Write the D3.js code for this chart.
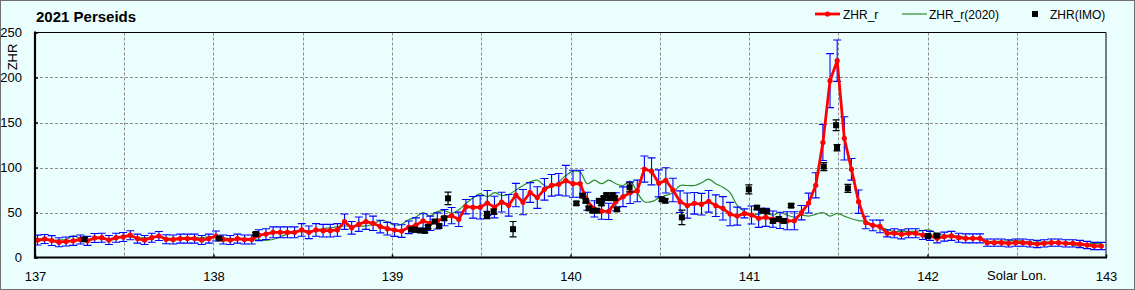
<!DOCTYPE html>
<html><head><meta charset="utf-8">
<script src="https://cdn.jsdelivr.net/npm/d3@7"></script>
<style>
html,body{margin:0;padding:0;background:#ebfefe;}
svg{display:block;}
text{font-family:"Liberation Sans",Arial,sans-serif;fill:#000;}
</style></head>
<body>
<svg id="chart" width="1135" height="290"></svg>
<script>
// ---- data ----
const solarLon = [
137.014,137.054,137.094,137.134,137.174,137.214,137.254,137.294,137.334,137.374,137.414,137.454,137.494,137.534,137.574,137.614,137.654,137.694,137.734,137.774,137.814,137.854,137.894,137.934,137.974,
138.014,138.054,138.094,138.134,138.174,138.214,138.254,138.294,138.334,138.374,138.414,138.454,138.494,138.534,138.574,138.614,138.654,138.694,138.734,138.774,138.814,138.854,138.894,138.934,138.974,
139.014,139.054,139.094,139.134,139.174,139.214,139.254,139.294,139.334,139.374,139.414,139.454,139.494,139.534,139.574,139.614,139.654,139.694,139.734,139.774,139.814,139.854,139.894,139.934,139.974,
140.014,140.054,140.094,140.134,140.174,140.214,140.254,140.294,140.334,140.374,140.414,140.454,140.494,140.534,140.574,140.614,140.654,140.694,140.734,140.774,140.814,140.854,140.894,140.934,140.974,
141.014,141.054,141.094,141.134,141.174,141.214,141.254,141.294,141.334,141.374,141.414,141.454,141.494,141.534,141.574,141.614,141.654,141.694,141.734,141.774,141.814,141.854,141.894,141.934,141.974,
142.014,142.054,142.094,142.134,142.174,142.214,142.254,142.294,142.334,142.374,142.414,142.454,142.494,142.534,142.574,142.614,142.654,142.694,142.734,142.774,142.814,142.854,142.894,142.934,142.974
];
const zhrR = [
19.4,20.6,18.8,17,17.8,18.5,20,18.5,21.7,22,19.4,22,22.8,24.8,21,19.4,22,23.9,20.2,20,21,21,21,19.4,21,
23.9,20,19.4,21,20,20,24.8,26,28,28,28,28,30.6,28,30.6,29.8,29.8,30.6,39.8,33,37,39.8,38,34.4,32,
30.5,29.4,33.5,36,40.6,38,40.6,44.3,46.5,42.4,56.5,55.7,55.7,60.5,56,61.5,58,69.4,61.5,72.2,66.6,75.7,80.2,81.3,85.4,
82,82,62.5,54,51.5,51.3,62,67.5,72,74,98.3,95.7,82.4,85.7,75,62,57.7,60.2,59.2,62.4,57.6,54.6,48.2,46,49,
47.2,43.5,44.6,42.6,41.3,40.8,40.8,49.8,60.5,80.2,127.8,196.5,218.7,132.4,98,62,38.9,35.7,34.5,26.9,27,25.7,26.9,26.9,25,
24,21.3,23.2,24,22,21.3,21.3,21.3,16.5,16.5,16.5,15.7,16.5,16.5,15.7,15,15.7,16.5,16.5,15.7,15.7,15,13.9,12.8,12.8
];
const zhrRErr = [
5.5,5,5.5,5,5,5,5,5,5,5,5,5,5,5,5,5,5,5,5,5,5,5,5,5,5,
5.5,5,5,5,5,5,6,6,6,6,6,6,7,7,7,7,7,7,8.5,7,8,8.5,8,7,7,
7,7,7,8,8,8,9,9,9,8,8,12,13,14,12,11,12,13,14,11,12,12,12,12,17,
15,15,10,9,9,9,10,11,12,12,14.5,15,15,14,13,12,14,12,12,12,12,13,13,10,5,
10,10,10,9,9,10,10,8,11,14,20,30,23,24,12,13,7,6,7,4,5,5,5,5,5,
5,5,5,5,5,5,5,5,4,4,4,4,4,4,4,4,4,4,4,4,4,4,4,4,4
];
const zhrR2020 = [
18,19,19,19.5,20,24,21,20,21,21,19,21,23,23,22,22,22,23,22,21,22,22,22,22,23,
23,22,21,21,20,20,19.5,19,20,23,26,28,29,28,30,32,33,34,35,35,35,35,37,41,40,
36,37,42,45,50,46,51,52,49,53,60,66,71,67.6,72,69,70,75,80,84,86,80,78,84,91,
96,95,82,86,82,86,82,80,85,72,62,62,66,69,72,80,80,80,83,87,82,78,72,58,51,
48.5,48,50,47,50,47,45,47,46,48,50,46,49,46,43,41,40,36,34,31,29,29,29,29,30,
30.5,26,25,24,24,22,22,22,18,18,18,18.5,19,18,17,17,17,17,16,15.5,14,12.5,15,15.5,15.5
];
const imoLon = [137.276,138.032,138.236,139.109,139.128,139.156,139.184,139.202,139.240,139.264,139.292,139.314,139.532,139.570,139.678,
140.033,140.067,140.085,140.102,140.123,140.148,140.160,140.173,140.186,140.201,140.220,140.235,140.248,140.260,140.331,140.512,140.531,140.624,
140.999,141.044,141.074,141.100,141.134,141.167,141.194,141.236,141.419,141.488,141.493,141.554,142.002,142.052];
const imoZHR = [20.2,21.3,26.1,31,31,30,29.5,34,40,35,43.5,65.7,47.2,50.9,31.5,
60.2,68.7,63,54.6,52,52,63,60,66,69.4,66,69.4,66,53.5,78,64.6,63,44.6,
75.7,55.4,52,51,40.6,42.8,40.6,57.6,101,147,122,76.8,23.9,24.4];
const imoErr = [1.5,1.5,1.5,1.5,1.5,1.5,1.5,2,2,2,2,7,4,3,8.5,
2,2,2,2,2,2,2,2,2,2,2,2,2,2,5,2,2,8,
5,2,2,2,2,2,2,2,4.5,6,3.5,4.5,1,1];
const xTicks = [137,138,139,140,141,142,143];
const yTicks = [0,50,100,150,200,250];
const title = "2021 Perseids";
const legendNames = ["ZHR_r","ZHR_r(2020)","ZHR(IMO)"];

// ---- drawing ----
const svg = d3.select("#chart");
const W = 1135, H = 290;
const L = 35, R = 1106, T = 32.5, B = 257.5;
const x = d3.scaleLinear().domain([137,143]).range([L,R]);
const y = d3.scaleLinear().domain([0,250]).range([B,T]);

svg.append("rect").attr("x",0.5).attr("y",0.5).attr("width",W-1).attr("height",H-1)
  .attr("fill","#ebfefe").attr("stroke","#707070").attr("stroke-width",1);

svg.append("defs").append("clipPath").attr("id","clip")
  .append("rect").attr("x",L).attr("y",T-12).attr("width",R-L).attr("height",B-T+12);

// grid
const grid = svg.append("g").attr("stroke","#8c8c8c").attr("stroke-width",1).attr("stroke-dasharray","3,2");
d3.range(137.5,143,0.5).forEach(v=>{
  grid.append("line").attr("x1",Math.round(x(v))+0.5).attr("x2",Math.round(x(v))+0.5).attr("y1",T).attr("y2",B);
});
yTicks.filter(v=>v>0&&v<250).forEach(v=>{
  grid.append("line").attr("x1",L).attr("x2",R).attr("y1",Math.round(y(v))+0.5).attr("y2",Math.round(y(v))+0.5);
});

const plot = svg.append("g").attr("clip-path","url(#clip)");
const red = solarLon.map((l,i)=>({l, v:zhrR[i], e:zhrRErr[i]}));
const green = solarLon.map((l,i)=>({l, v:zhrR2020[i]}));
const imo = imoLon.map((l,i)=>({l, v:imoZHR[i], e:imoErr[i]}));

// green line
plot.append("path").datum(green)
  .attr("fill","none").attr("stroke","#2e8b2e").attr("stroke-width",1.2)
  .attr("d",d3.line().x(d=>x(d.l)).y(d=>y(d.v)).curve(d3.curveCatmullRom));

// blue error bars
const eb = plot.append("g").attr("stroke","#0000ff").attr("stroke-width",1.1);
red.forEach(d=>{
  const cx = x(d.l), y1 = y(d.v+d.e), y2 = y(d.v-d.e);
  eb.append("line").attr("x1",cx).attr("x2",cx).attr("y1",y1).attr("y2",y2);
  eb.append("line").attr("x1",cx-4).attr("x2",cx+4).attr("y1",y1).attr("y2",y1);
  eb.append("line").attr("x1",cx-4).attr("x2",cx+4).attr("y1",y2).attr("y2",y2);
});

// red line + markers
plot.append("path").datum(red)
  .attr("fill","none").attr("stroke","#ff0000").attr("stroke-width",2.8).attr("stroke-linejoin","round")
  .attr("d",d3.line().x(d=>x(d.l)).y(d=>y(d.v)));
plot.append("g").selectAll("circle").data(red).join("circle")
  .attr("cx",d=>x(d.l)).attr("cy",d=>y(d.v)).attr("r",2.6).attr("fill","#ff0000");

// IMO points
const ib = plot.append("g").attr("stroke","#000").attr("stroke-width",1.2);
imo.forEach(d=>{
  const cx = x(d.l), y1 = y(d.v+d.e), y2 = y(d.v-d.e);
  ib.append("line").attr("x1",cx).attr("x2",cx).attr("y1",y1).attr("y2",y2);
  ib.append("line").attr("x1",cx-3.5).attr("x2",cx+3.5).attr("y1",y1).attr("y2",y1);
  ib.append("line").attr("x1",cx-3.5).attr("x2",cx+3.5).attr("y1",y2).attr("y2",y2);
});
plot.append("g").selectAll("rect").data(imo).join("rect")
  .attr("x",d=>x(d.l)-3).attr("y",d=>y(d.v)-3).attr("width",6).attr("height",6).attr("fill","#000");

// frame
svg.append("line").attr("x1",L).attr("x2",R).attr("y1",T).attr("y2",T).attr("stroke","#000").attr("stroke-width",1);
svg.append("line").attr("x1",R).attr("x2",R).attr("y1",T).attr("y2",B).attr("stroke","#000").attr("stroke-width",1);

// axes
const xAxis = d3.axisBottom(x).tickValues(xTicks).tickSize(-3).tickPadding(14).tickFormat(d3.format("d"));
const gx = svg.append("g").attr("transform",`translate(0,${B})`).call(xAxis);
gx.select(".domain").attr("stroke","#000").attr("stroke-width",2.2).attr("d",`M${L-1},0H${R+1}`);
gx.selectAll(".tick line").attr("stroke","#000").attr("stroke-width",1.5);
gx.selectAll(".tick text").attr("font-size",13).attr("font-family","Liberation Sans, Arial, sans-serif").attr("fill","#000");

const yAxis = d3.axisLeft(y).tickValues(yTicks).tickSize(-3).tickPadding(13);
const gy = svg.append("g").attr("transform",`translate(${L},0)`).call(yAxis);
gy.select(".domain").attr("stroke","#000").attr("stroke-width",2.2).attr("d",`M0,${T-1}V${B+1}`);
gy.selectAll(".tick line").attr("stroke","#000").attr("stroke-width",1.5);
gy.selectAll(".tick text").attr("font-size",13).attr("font-family","Liberation Sans, Arial, sans-serif").attr("fill","#000");

// axis titles
svg.append("text").attr("x",x(142.5)).attr("y",B+22).attr("text-anchor","middle").attr("font-size",13).text("Solar Lon.");
svg.append("text").attr("transform","translate(17,57) rotate(-90)").attr("text-anchor","middle").attr("font-size",13).text("ZHR");

// title
svg.append("text").attr("x",36).attr("y",22).attr("font-size",15).attr("font-weight","bold").text(title);

// legend
const lg = svg.append("g").attr("font-size",12);
lg.append("line").attr("x1",815).attr("x2",840).attr("y1",14).attr("y2",14).attr("stroke","#ff0000").attr("stroke-width",2.8);
lg.append("circle").attr("cx",827.5).attr("cy",14).attr("r",2.6).attr("fill","#ff0000");
lg.append("text").attr("x",843).attr("y",18.5).text(legendNames[0]);
lg.append("line").attr("x1",902).attr("x2",927).attr("y1",14).attr("y2",14).attr("stroke","#2e8b2e").attr("stroke-width",1.2);
lg.append("text").attr("x",929).attr("y",18.5).text(legendNames[1]);
lg.append("rect").attr("x",1032).attr("y",11).attr("width",6).attr("height",6).attr("fill","#000");
lg.append("text").attr("x",1050).attr("y",18.5).text(legendNames[2]);
</script>
</body></html>
